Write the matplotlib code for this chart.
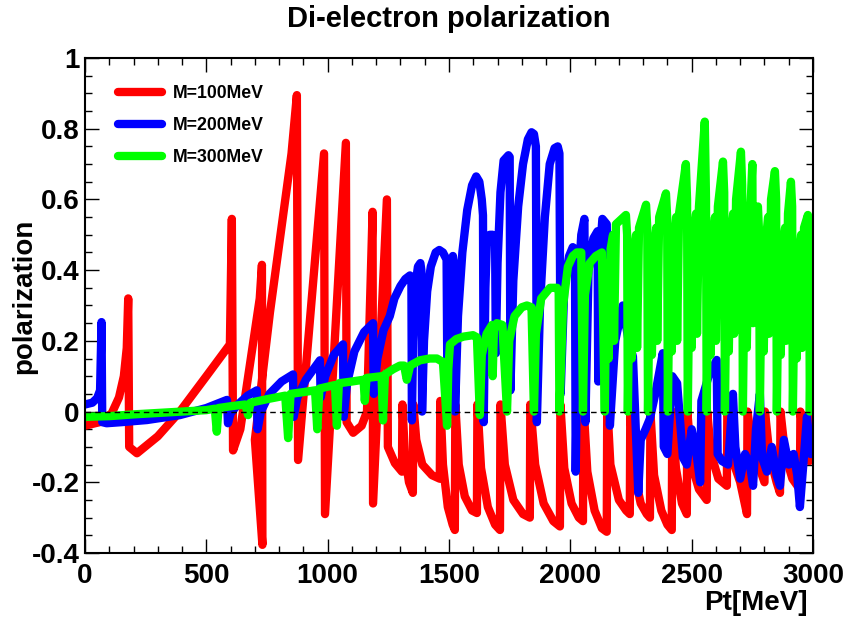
import numpy as np
import matplotlib
matplotlib.use('Agg')
import matplotlib.pyplot as plt
from matplotlib.ticker import MultipleLocator, FormatStrFormatter

plt.rcParams['font.family'] = ['Liberation Sans', 'DejaVu Sans']
plt.rcParams['font.weight'] = 'bold'
plt.rcParams['axes.unicode_minus'] = False

# M=100MeV (rojo)
pt100 = [0, 60, 110, 140, 160, 172, 178, 182, 214, 300, 391, 500, 597, 605, 610,
         640, 720, 729, 731, 700, 762, 851, 873, 878, 985, 989, 1075, 1078, 1105,
         1140, 1162, 1185, 1187, 1244, 1248, 1277, 1306, 1308, 1318, 1335, 1351,
         1353, 1365, 1390, 1430, 1462, 1464, 1475, 1495, 1515, 1524, 1526, 1540,
         1565, 1595, 1615, 1617, 1632, 1660, 1690, 1710, 1712, 1730, 1765, 1805,
         1833, 1835, 1855, 1890, 1930, 1957, 1959, 1975, 2005, 2035, 2052, 2054,
         2070, 2100, 2130, 2150, 2152, 2165, 2200, 2230, 2245, 2247, 2262, 2290,
         2315, 2328, 2330, 2345, 2375, 2400, 2418, 2420, 2435, 2460, 2480, 2482,
         2500, 2530, 2562, 2564, 2580, 2610, 2645, 2647, 2665, 2700, 2728, 2730,
         2750, 2780, 2800, 2802, 2820, 2850, 2864, 2866, 2885, 2915, 2946, 2948,
         2965, 2985, 3000]
pol100 = [-0.040, -0.030, -0.005, 0.040, 0.100, 0.180, 0.320, -0.100, -0.118, -0.070,
          0.000, 0.100, 0.190, 0.545, -0.110, -0.050, 0.320, 0.415, -0.377, -0.080,
          0.280, 0.730, 0.895, -0.137, 0.730, -0.290, 0.760, -0.030, -0.060, -0.040,
          0.000, 0.565, -0.260, 0.600, -0.100, -0.146, -0.170, 0.020, -0.120, -0.200,
          -0.230, 0.020, -0.080, -0.150, -0.180, -0.190, 0.030, -0.150, -0.270,
          -0.320, -0.335, 0.020, -0.150, -0.240, -0.280, -0.287, 0.020, -0.160,
          -0.270, -0.320, -0.335, 0.020, -0.150, -0.250, -0.290, -0.300, 0.020,
          -0.150, -0.260, -0.310, -0.325, 0.020, -0.160, -0.260, -0.300, -0.310,
          0.020, -0.170, -0.280, -0.330, -0.340, 0.020, -0.150, -0.250, -0.280,
          -0.290, 0.000, -0.170, -0.260, -0.290, -0.300, 0.000, -0.180, -0.280,
          -0.320, -0.335, 0.000, -0.160, -0.260, -0.290, 0.000, -0.150, -0.220,
          -0.250, 0.000, -0.120, -0.190, -0.210, 0.010, -0.130, -0.200, -0.290,
          0.000, -0.100, -0.160, -0.200, 0.000, -0.120, -0.200, -0.230, 0.000,
          -0.120, -0.190, -0.220, 0.000, -0.100, -0.140, 0.000]

# M=200MeV (azul)
pt200 = [0, 30, 50, 62, 68, 71, 89, 150, 255, 391, 500, 585, 589, 600, 630, 670,
         708, 711, 725, 760, 810, 857, 860, 875, 910, 968, 971, 990, 1025, 1063,
         1066, 1080, 1110, 1150, 1187, 1190, 1205, 1230, 1256, 1275, 1300, 1320,
         1339, 1345, 1347, 1352, 1362, 1372, 1382, 1386, 1389, 1397, 1410, 1425,
         1445, 1460, 1475, 1490, 1494, 1500, 1508, 1516, 1522, 1525, 1537, 1555,
         1575, 1595, 1612, 1625, 1635, 1640, 1643, 1650, 1656, 1668, 1680, 1690,
         1693, 1700, 1712, 1725, 1745, 1750, 1753, 1765, 1785, 1805, 1825, 1840,
         1850, 1858, 1862, 1875, 1895, 1915, 1935, 1948, 1955, 1960, 1975, 1995,
         2010, 2019, 2022, 2032, 2045, 2058, 2062, 2075, 2095, 2112, 2115, 2122,
         2132, 2150, 2163, 2185, 2216, 2240, 2258, 2280, 2290, 2310, 2328, 2350,
         2381, 2385, 2400, 2420, 2440, 2464, 2480, 2500, 2520, 2535, 2540, 2570,
         2603, 2607, 2625, 2650, 2670, 2680, 2700, 2720, 2740, 2753, 2765, 2781,
         2790, 2810, 2830, 2850, 2864, 2880, 2900, 2920, 2935, 2946, 2960, 2975,
         2990, 3005]
pol200 = [0.020, 0.025, 0.038, 0.060, 0.253, -0.030, -0.033, -0.030, -0.024, -0.010,
          0.010, 0.033, -0.033, -0.005, 0.020, 0.045, 0.060, -0.050, 0.000, 0.050,
          0.085, 0.105, -0.015, 0.040, 0.090, 0.145, 0.040, 0.100, 0.160, 0.190,
          -0.015, 0.080, 0.170, 0.225, 0.250, 0.050, 0.150, 0.230, 0.270, 0.320,
          0.355, 0.375, 0.385, 0.370, -0.025, 0.200, 0.360, 0.410, 0.420, 0.400,
          0.000, 0.200, 0.340, 0.410, 0.450, 0.457, 0.450, 0.430, 0.000, 0.300,
          0.420, 0.440, 0.410, 0.000, 0.270, 0.450, 0.570, 0.640, 0.665, 0.650,
          0.600, 0.555, -0.030, 0.350, 0.480, 0.500, 0.500, 0.470, 0.165, 0.420,
          0.620, 0.710, 0.725, 0.720, 0.060, 0.370, 0.580, 0.700, 0.770, 0.790,
          0.785, 0.750, -0.030, 0.300, 0.550, 0.700, 0.745, 0.750, 0.730, 0.050,
          0.350, 0.440, 0.465, 0.460, -0.170, 0.350, 0.500, 0.545, -0.030, 0.400,
          0.490, 0.510, 0.085, 0.450, 0.545, 0.530, -0.040, 0.200, 0.300, 0.200,
          0.155, -0.230, -0.080, -0.050, -0.020, 0.050, 0.165, -0.100, -0.120,
          0.100, 0.080, -0.130, -0.150, -0.050, -0.120, -0.200, 0.030, 0.100,
          0.146, -0.120, -0.140, -0.150, 0.050, -0.100, -0.190, -0.120, -0.150,
          -0.210, -0.050, 0.050, -0.130, -0.170, -0.100, -0.180, -0.210, -0.080,
          -0.150, -0.120, -0.180, -0.270, -0.150, -0.015, -0.120, -0.120]

# M=300MeV (verde)
pt300 = [0, 100, 200, 300, 400, 500, 535, 543, 550, 600, 660, 672, 682, 750, 825,
         837, 847, 900, 948, 957, 966, 1030, 1038, 1046, 1100, 1148, 1153, 1160,
         1222, 1228, 1236, 1270, 1298, 1315, 1326, 1340, 1380, 1420, 1450, 1475,
         1492, 1497, 1504, 1530, 1560, 1599, 1615, 1627, 1635, 1655, 1677, 1680,
         1685, 1697, 1720, 1739, 1748, 1770, 1800, 1821, 1840, 1850, 1858, 1880,
         1916, 1945, 1952, 1955, 1970, 1990, 2010, 2027, 2045, 2052, 2060,
         2080, 2105, 2130, 2142,
         2147, 2154, 2158, 2166, 2176, 2180, 2188, 2229, 2234, 2237,
         2242, 2249, 2253, 2261, 2271, 2275, 2283, 2312, 2317, 2320,
         2325, 2332, 2336, 2344, 2354, 2358, 2366, 2394, 2399, 2402,
         2407, 2414, 2418, 2426, 2436, 2440, 2448, 2476, 2481, 2484,
         2489, 2496, 2500, 2508, 2518, 2522, 2530, 2554, 2559, 2562,
         2567, 2574, 2578, 2586, 2596, 2600, 2608, 2629, 2634, 2637,
         2642, 2649, 2653, 2661, 2671, 2675, 2683, 2703, 2708, 2711,
         2716, 2723, 2727, 2735, 2745, 2750, 2753, 2760, 2773, 2778, 2781,
         2786, 2793, 2797, 2805, 2815, 2819, 2827, 2843, 2848, 2851,
         2856, 2863, 2867, 2875, 2885, 2889, 2897, 2909, 2914, 2917,
         2922, 2929, 2933, 2941, 2951, 2955, 2963, 2979, 2984, 2987,
         2992, 2997, 3000]
pol300 = [-0.015, -0.013, -0.008, -0.004, 0.000, 0.004, 0.008, -0.057, 0.010, 0.015,
          0.020, -0.010, 0.025, 0.035, 0.045, -0.075, 0.050, 0.055, 0.060, -0.050,
          0.065, 0.075, -0.040, 0.080, 0.085, 0.090, 0.030, 0.095, 0.100, -0.025,
          0.105, 0.120, 0.130, 0.130, 0.090, 0.130, 0.145, 0.150, 0.150, 0.140,
          -0.040, 0.120, 0.190, 0.205, 0.212, 0.216, 0.210, -0.010, 0.160, 0.220,
          0.245, 0.100, 0.230, 0.250, 0.245, 0.000, 0.200, 0.270, 0.295, 0.300,
          0.295, 0.000, 0.220, 0.320, 0.350, 0.350, 0.340, 0.000, 0.300, 0.410,
          0.440, 0.450, 0.450, 0.000, 0.330, 0.420, 0.440, 0.450, 0.000,
          0.300, 0.420, 0.150, 0.460, 0.500, 0.200, 0.530, 0.556, 0.500, 0.000,
          0.280, 0.400, 0.150, 0.450, 0.500, 0.180, 0.520, 0.585, 0.520, 0.000,
          0.280, 0.400, 0.160, 0.460, 0.520, 0.200, 0.550, 0.617, 0.550, 0.000,
          0.300, 0.420, 0.170, 0.480, 0.550, 0.200, 0.560, 0.700, 0.600, 0.000,
          0.300, 0.430, 0.180, 0.500, 0.560, 0.220, 0.580, 0.820, 0.600, 0.000,
          0.300, 0.420, 0.160, 0.480, 0.550, 0.200, 0.580, 0.707, 0.620, 0.000,
          0.310, 0.440, 0.170, 0.500, 0.560, 0.220, 0.600, 0.735, 0.640, 0.000,
          0.300, 0.430, 0.180, 0.500, 0.620, 0.700, 0.250, 0.520, 0.580, 0.500, 0.000,
          0.290, 0.420, 0.170, 0.480, 0.550, 0.220, 0.600, 0.680, 0.600, 0.000,
          0.280, 0.400, 0.160, 0.470, 0.520, 0.200, 0.560, 0.650, 0.580, 0.000,
          0.260, 0.380, 0.150, 0.440, 0.500, 0.180, 0.520, 0.556, 0.500, 0.000,
          0.300, 0.440, 0.440]

fig = plt.figure(figsize=(8.46, 6.23), dpi=100)
ax = fig.add_axes([0.1005, 0.1124, 0.8605, 0.7945])

estilo = dict(lw=6, solid_capstyle='round', solid_joinstyle='round')
ax.plot(pt100, pol100, c='#ff0000', label='M=100MeV', **estilo)
ax.plot(pt200, pol200, c='#0000ff', label='M=200MeV', **estilo)
ax.plot(pt300, pol300, c='#00ff00', label='M=300MeV', **estilo)
ax.axhline(0, color='black', lw=1, dashes=(4, 3), zorder=5)

ax.set_xlim(0, 3000)
ax.set_ylim(-0.4, 1)
ax.xaxis.set_major_locator(MultipleLocator(500))
ax.xaxis.set_minor_locator(MultipleLocator(100))
ax.yaxis.set_major_locator(MultipleLocator(0.2))
ax.yaxis.set_minor_locator(MultipleLocator(0.05))
ax.xaxis.set_major_formatter(FormatStrFormatter('%g'))
ax.yaxis.set_major_formatter(FormatStrFormatter('%g'))
ax.tick_params(which='both', direction='in', top=True, right=True, width=1)
ax.tick_params(which='major', length=10, labelsize=20)
ax.tick_params(which='minor', length=5)
ax.tick_params(axis='x', pad=7)
ax.tick_params(axis='y', pad=4)
for s in ax.spines.values():
    s.set_linewidth(1.5)

ax.set_title('Di-electron polarization', fontsize=21, fontweight='bold', pad=22)
ax.set_xlabel('Pt[MeV]', fontsize=20, fontweight='bold', ha='right')
ax.xaxis.set_label_coords(0.993, -0.075)
ax.set_ylabel('polarization', fontsize=20, fontweight='bold')
ax.yaxis.set_label_coords(-0.065, 0.519)

ax.legend(loc='upper left', bbox_to_anchor=(0.045, 0.945), frameon=False,
          fontsize=12.7, handlelength=2.5, handletextpad=0.6, labelspacing=0.85,
          borderpad=0, borderaxespad=0)

plt.savefig('out.png', dpi=100)
